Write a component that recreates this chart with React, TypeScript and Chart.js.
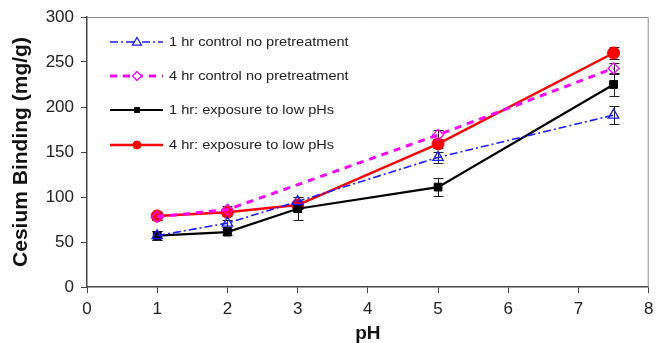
import React, { useEffect, useRef } from "react";
import { Chart, registerables } from "chart.js";

Chart.register(...registerables);

const phValues = [1, 2, 3, 5, 7.5];
const seriesNames = [
  "1 hr control no pretreatment",
  "4 hr control no pretreatment",
  "1 hr: exposure to low pHs",
  "4 hr: exposure to low pHs",
];
const control1h = [57, 71, 95, 144, 191];
const control4h = [78, 86, null, 169, 243];
const lowPh1h = [57, 61, 87, 111, 225];
const lowPh4h = [79, 83, 91, 159, 260];
const control1hErr = [5, 4, 5, 6, 10];
const control4hErr = [4, 4, 0, 5, 6];
const lowPh1hErr = [5, 3, 13, 10, 13];
const lowPh4hErr = [4, 4, 4, 4, 7];
const xTicks = [0, 1, 2, 3, 4, 5, 6, 7, 8];
const yTicks = [0, 50, 100, 150, 200, 250, 300];

const FONT = "Arial, 'Liberation Sans', sans-serif";

const toPoints = (vals: (number | null)[]) =>
  phValues.map((x, i) => ({ x, y: vals[i] }));

export default function App() {
  const ref = useRef<HTMLCanvasElement>(null);
  useEffect(() => {
    const errs = [control1hErr, control4hErr, lowPh1hErr, lowPh4hErr];
    const errorBars = {
      id: "errorBars",
      beforeDatasetsDraw(chart: any) {
        const { ctx, scales } = chart;
        ctx.save();
        ctx.strokeStyle = "#222";
        ctx.lineWidth = 1;
        chart.data.datasets.forEach((ds: any, di: number) => {
          ds.data.forEach((p: any, i: number) => {
            if (p.y == null) return;
            const e = errs[di][i];
            if (!e) return;
            const x = Math.round(scales.x.getPixelForValue(p.x)) + 0.5;
            const y1 = Math.round(scales.y.getPixelForValue(p.y - e)) + 0.5;
            const y2 = Math.round(scales.y.getPixelForValue(p.y + e)) + 0.5;
            ctx.beginPath();
            ctx.moveTo(x, y1);
            ctx.lineTo(x, y2);
            ctx.moveTo(x - 5, y1);
            ctx.lineTo(x + 5, y1);
            ctx.moveTo(x - 5, y2);
            ctx.lineTo(x + 5, y2);
            ctx.stroke();
          });
        });
        ctx.restore();
      },
    };
    const frameAndLegend = {
      id: "frameAndLegend",
      afterDraw(chart: any) {
        const { ctx, chartArea } = chart;
        ctx.save();
        ctx.strokeStyle = "#8a8a8a";
        ctx.lineWidth = 1;
        ctx.beginPath();
        ctx.moveTo(chartArea.left, chartArea.top + 0.5);
        ctx.lineTo(chartArea.right - 0.5, chartArea.top + 0.5);
        ctx.lineTo(chartArea.right - 0.5, chartArea.bottom);
        ctx.stroke();
        const rows = [42, 76, 110, 145];
        chart.data.datasets.forEach((ds: any, i: number) => {
          const y = rows[i];
          const x0 = 110;
          const x1 = 163;
          ctx.save();
          ctx.strokeStyle = ds.borderColor;
          ctx.lineWidth = ds.borderWidth;
          ctx.setLineDash(ds.borderDash || []);
          ctx.beginPath();
          ctx.moveTo(x0, y);
          ctx.lineTo(x1, y);
          ctx.stroke();
          ctx.restore();
          const style = ds.pointStyle;
          const r = 4.5;
          ctx.save();
          ctx.fillStyle = ds.pointBackgroundColor === "rgba(255,255,255,0)" ? "#fff" : ds.pointBackgroundColor;
          ctx.strokeStyle = ds.pointBorderColor;
          ctx.lineWidth = ds.pointBorderWidth;
          ctx.beginPath();
          const cx = 137;
          if (style === "triangle") {
            ctx.moveTo(cx, y - r);
            ctx.lineTo(cx + r, y + r * 0.7);
            ctx.lineTo(cx - r, y + r * 0.7);
            ctx.closePath();
          } else if (style === "rectRot") {
            ctx.moveTo(cx, y - r);
            ctx.lineTo(cx + r, y);
            ctx.lineTo(cx, y + r);
            ctx.lineTo(cx - r, y);
            ctx.closePath();
          } else if (style === "rect") {
            ctx.rect(cx - 2.5, y - 2.5, 5, 5);
          } else {
            ctx.arc(cx, y, 4, 0, Math.PI * 2);
          }
          ctx.fill();
          ctx.stroke();
          ctx.restore();
          ctx.save();
          ctx.fillStyle = "#222";
          ctx.font = `13px ${FONT}`;
          ctx.textBaseline = "middle";
          ctx.textAlign = "left";
          ctx.translate(169, y);
          ctx.scale(1.12, 1);
          ctx.fillText(seriesNames[i], 0, 0);
          ctx.restore();
        });
        ctx.restore();
      },
    };
    const chart = new Chart(ref.current!, {
      type: "line",
      data: {
        datasets: [
          {
            label: seriesNames[0],
            data: toPoints(control1h),
            borderColor: "#1a1aff",
            borderWidth: 1.6,
            borderDash: [8, 3, 2, 3],
            pointStyle: "triangle",
            pointRadius: 6,
            pointBackgroundColor: "rgba(255,255,255,0)",
            pointBorderColor: "#1a1aff",
            pointBorderWidth: 1.3,
            spanGaps: true,
          },
          {
            label: seriesNames[1],
            data: toPoints(control4h),
            borderColor: "#ff00ff",
            borderWidth: 3,
            borderDash: [7, 6],
            pointStyle: "rectRot",
            pointRadius: 5.5,
            pointBackgroundColor: "rgba(255,255,255,0)",
            pointBorderColor: "#ff00ff",
            pointBorderWidth: 1.3,
            spanGaps: true,
          },
          {
            label: seriesNames[2],
            data: toPoints(lowPh1h),
            borderColor: "#000000",
            borderWidth: 2.2,
            pointStyle: "rect",
            pointRadius: 5.5,
            pointBackgroundColor: "#000000",
            pointBorderColor: "#000000",
            pointBorderWidth: 1,
            spanGaps: true,
          },
          {
            label: seriesNames[3],
            data: toPoints(lowPh4h),
            borderColor: "#ff0000",
            borderWidth: 2.5,
            pointStyle: "circle",
            pointRadius: 6,
            pointBackgroundColor: "#ff0000",
            pointBorderColor: "#ff0000",
            pointBorderWidth: 1,
            spanGaps: true,
          },
        ],
      },
      options: {
        responsive: false,
        animation: false,
        layout: { padding: { top: 17, right: 6, left: 0, bottom: 0 } },
        plugins: { legend: { display: false }, tooltip: { enabled: false } },
        scales: {
          x: {
            type: "linear",
            min: 0,
            max: 8,
            afterFit: (s: any) => {
              s.height = 56;
              s.paddingLeft = 0;
              s.paddingRight = 0;
            },
            afterBuildTicks: (s: any) => {
              s.ticks = xTicks.map((v) => ({ value: v }));
            },
            ticks: {
              padding: 6,
              color: "#222",
              font: { family: FONT, size: 17 },
              maxRotation: 0,
            },
            grid: {
              drawOnChartArea: false,
              drawTicks: true,
              tickLength: 6,
              color: "#444",
            },
            border: { display: true, color: "#444", width: 1.5 },
            title: {
              display: true,
              text: "pH",
              color: "#111",
              font: { family: FONT, size: 19, weight: "bold", lineHeight: 1 },
              padding: { top: 0, bottom: 0 },
            },
          },
          y: {
            type: "linear",
            min: 0,
            max: 300,
            afterFit: (s: any) => {
              s.width = 87;
              s.paddingTop = 0;
              s.paddingBottom = 0;
            },
            afterBuildTicks: (s: any) => {
              s.ticks = yTicks.map((v) => ({ value: v }));
            },
            ticks: {
              padding: 7,
              color: "#222",
              font: { family: FONT, size: 17 },
            },
            grid: {
              drawOnChartArea: false,
              drawTicks: true,
              tickLength: 6,
              color: "#444",
            },
            border: { display: true, color: "#444", width: 1.5 },
            title: {
              display: true,
              text: "Cesium Binding (mg/g)",
              color: "#111",
              font: { family: FONT, size: 21, weight: "bold" },
              padding: { top: 9, bottom: 0 },
            },
          },
        },
      },
      plugins: [errorBars, frameAndLegend],
    } as any);
    return () => chart.destroy();
  }, []);
  return (
    <div style={{ position: "absolute", left: 0, top: 0, width: 656, height: 343, background: "#fff" }}>
      <canvas ref={ref} width={656} height={343} style={{ display: "block" }} />
    </div>
  );
}
